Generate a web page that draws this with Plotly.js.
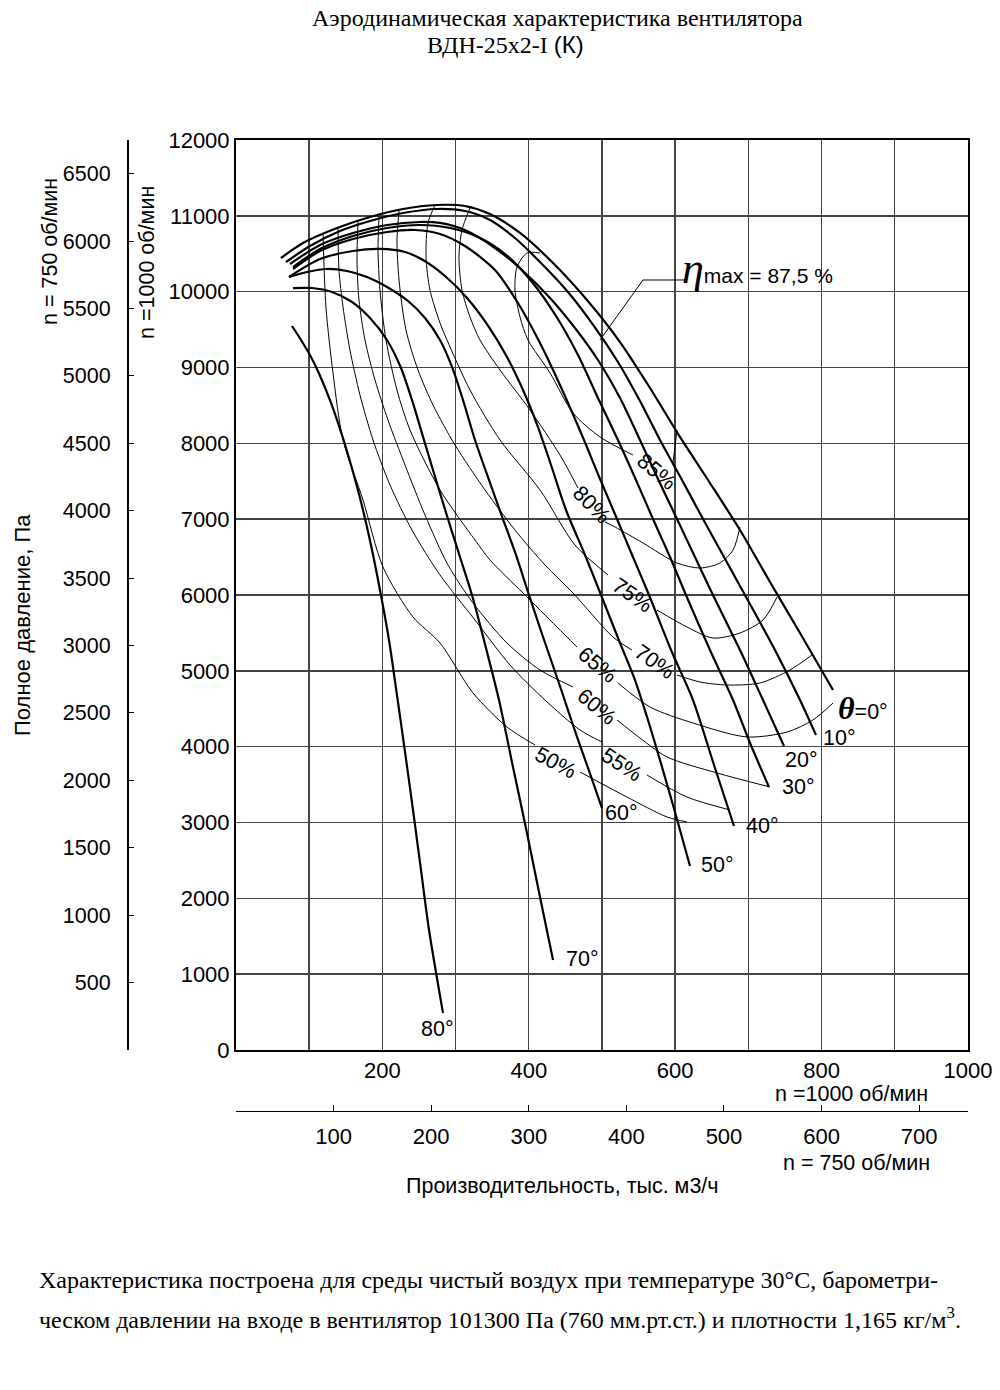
<!DOCTYPE html>
<html><head><meta charset="utf-8">
<script src="https://cdn.plot.ly/plotly-3.0.1.min.js"></script>
<style>body{margin:0;background:#fff}#chart{width:1000px;height:1390px}</style>
</head><body><div id="chart"></div>
<script>
// Flow Q, thousand m3/h (n = 1000 rpm); total pressure P, Pa
const theta0Q = [61.5, 91.5, 138.0, 183.1, 228.1, 274.6, 312.8, 347.0, 388.0, 433.1, 479.5, 524.6, 565.6, 606.5, 647.5, 688.5, 729.5, 770.5, 815.6];
const theta0P = [10444, 10642, 10840, 10985, 11090, 11143, 11130, 11024, 10774, 10378, 9890, 9336, 8730, 8084, 7477, 6857, 6172, 5499, 4747];
const theta10Q = [68.3, 101.1, 142.1, 183.1, 228.1, 274.6, 312.8, 347.0, 381.1, 415.3, 453.5, 489.1, 521.8, 551.9, 579.2, 609.3, 638.0, 666.7, 695.3, 736.3, 770.5, 792.3];
const theta10P = [10391, 10602, 10800, 10932, 11037, 11090, 11064, 10945, 10708, 10391, 9996, 9547, 9073, 8558, 8044, 7517, 7002, 6501, 6000, 5275, 4615, 4154];
const theta20Q = [73.8, 114.8, 159.8, 206.3, 251.4, 278.7, 312.8, 353.8, 390.7, 429.0, 463.1, 494.5, 524.6, 551.9, 576.5, 602.5, 627.0, 651.6, 688.5, 719.9, 748.6];
const theta20P = [10365, 10616, 10774, 10879, 10919, 10906, 10813, 10576, 10286, 9917, 9521, 9099, 8598, 8044, 7530, 7002, 6501, 6000, 5275, 4615, 4009];
const theta30Q = [77.9, 114.8, 159.8, 206.3, 251.4, 292.3, 330.6, 367.5, 404.4, 437.2, 467.2, 494.5, 521.8, 546.4, 569.7, 592.9, 614.7, 647.5, 679.0, 702.2, 728.1];
const theta30P = [10325, 10563, 10734, 10840, 10879, 10840, 10721, 10497, 10128, 9679, 9165, 8598, 8044, 7517, 7002, 6501, 6000, 5275, 4615, 4048, 3468];
const theta40Q = [77.9, 114.8, 159.8, 206.3, 244.5, 278.7, 312.8, 353.8, 385.2, 415.3, 442.6, 475.4, 497.3, 520.5, 542.3, 564.2, 594.3, 624.3, 653.0, 680.3];
const theta40P = [10299, 10536, 10695, 10787, 10813, 10761, 10602, 10286, 9851, 9323, 8769, 8044, 7530, 7002, 6501, 6000, 5275, 4615, 3758, 2954];
const theta50Q = [72.4, 114.8, 159.8, 196.7, 230.9, 255.5, 285.5, 315.6, 345.6, 370.2, 392.1, 412.6, 431.7, 450.8, 476.8, 501.4, 524.6, 545.1, 562.8, 579.2, 599.7, 620.2];
const theta50P = [10194, 10431, 10536, 10563, 10523, 10418, 10207, 9917, 9534, 9139, 8703, 8215, 7675, 7121, 6528, 5934, 5367, 4879, 4352, 3824, 3138, 2426];
const theta60Q = [72.4, 97.0, 124.3, 151.6, 179.0, 206.3, 235.0, 258.2, 278.7, 295.1, 310.1, 326.5, 345.6, 364.7, 382.5, 398.9, 415.3, 430.3, 445.3, 461.7, 480.9, 500.0];
const theta60P = [10194, 10259, 10299, 10273, 10194, 10062, 9877, 9653, 9363, 9007, 8572, 8044, 7517, 7002, 6528, 6040, 5565, 5143, 4721, 4246, 3719, 3191];
const theta70Q = [77.9, 103.8, 131.1, 158.5, 183.1, 206.3, 225.4, 240.4, 256.8, 273.2, 289.6, 306.0, 322.4, 341.5, 359.3, 378.4, 397.5, 415.3, 433.1];
const theta70P = [10048, 10048, 9996, 9864, 9653, 9363, 8993, 8572, 8044, 7517, 7002, 6501, 6000, 5301, 4615, 3732, 2862, 2018, 1187];
const theta80Q = [76.5, 88.8, 102.5, 116.1, 129.8, 143.4, 157.1, 170.8, 184.4, 196.7, 209.0, 219.9, 230.9, 241.8, 252.7, 263.7, 282.8];
const theta80P = [9547, 9363, 9139, 8862, 8532, 8150, 7714, 7226, 6659, 6066, 5407, 4681, 3930, 3165, 2374, 1582, 488];

// efficiency iso-lines (a = part before label, b = part after label)
const eff85Qa = [415.3, 397.5, 383.9, 381.1, 388.0, 398.9, 429.0, 460.4, 497.3, 542.3];
const eff85Pa = [10510, 10510, 10325, 10022, 9666, 9363, 8928, 8400, 8084, 7846];
const eff85Qb = [597.0, 602.5];
const eff85Pb = [7741, 8176];
const eff80Qa = [319.7, 308.7, 304.6, 308.7, 319.7, 333.3, 360.7, 401.6, 442.6, 467.2];
const eff80Pa = [11103, 10813, 10457, 10022, 9666, 9363, 8967, 8440, 7846, 7411];
const eff80Qb = [504.1, 517.8, 556.0, 602.5, 633.9, 661.2, 679.0, 688.5];
const eff80Pb = [6963, 6897, 6686, 6422, 6356, 6422, 6593, 6897];
const eff75Qa = [271.9, 262.3, 259.6, 265.0, 278.7, 288.2, 319.7, 360.7, 415.3, 463.1, 508.2];
const eff75Pa = [11143, 10906, 10457, 10022, 9587, 9363, 8703, 8044, 7385, 6659, 6264];
const eff75Qb = [575.1, 616.1, 651.6, 688.5, 719.9, 739.1];
const eff75Pb = [5802, 5578, 5433, 5499, 5670, 5974];
const eff70Qa = [222.7, 219.9, 222.7, 232.2, 248.6, 269.1, 299.2, 340.2, 381.1, 422.1, 460.4, 515.0, 541.0];
const eff70Pa = [11064, 10681, 10154, 9495, 8967, 8506, 7978, 7385, 6857, 6396, 6026, 5446, 5275];
const eff70Qb = [602.5, 633.9, 670.8, 715.8, 756.8, 786.9];
const eff70Pb = [4945, 4853, 4813, 4840, 5011, 5209];
const eff65Qa = [195.4, 194.0, 196.7, 204.9, 219.9, 237.7, 278.7, 326.5, 347.0, 392.1, 438.5, 465.8];
const eff65Pa = [10998, 10550, 10022, 9363, 8703, 8176, 7385, 6725, 6462, 6026, 5578, 5314];
const eff65Qb = [521.8, 565.6, 624.3, 698.1, 752.7, 788.2, 815.6];
const eff65Pb = [4840, 4523, 4312, 4128, 4193, 4352, 4576];
const eff60Qa = [166.7, 165.3, 168.0, 176.2, 189.9, 207.6, 230.9, 258.2, 289.6, 323.8, 370.2, 415.3, 460.4];
const eff60Pa = [10919, 10418, 9890, 9363, 8835, 8308, 7714, 7055, 6396, 5895, 5367, 5011, 4787];
const eff60Qb = [520.5, 551.9, 588.8, 657.1, 729.5];
const eff60Pb = [4352, 4114, 3864, 3653, 3468];
const eff55Qa = [139.3, 140.7, 146.2, 155.7, 169.4, 187.2, 210.4, 240.4, 278.7, 326.5, 374.3, 422.1, 469.9, 500.0];
const eff55Pa = [10840, 10286, 9798, 9231, 8637, 8044, 7451, 6857, 6264, 5670, 5077, 4615, 4220, 4062];
const eff55Qb = [561.5, 616.1, 674.9];
const eff55Pb = [3626, 3336, 3165];
const eff50Qa = [118.9, 122.9, 132.5, 146.2, 173.5, 200.8, 241.8, 278.7, 323.8, 370.2, 408.5];
const eff50Pa = [10761, 9798, 8928, 8044, 7253, 6369, 5710, 5367, 4708, 4259, 4022];
const eff50Qb = [469.9, 534.1, 588.8, 616.1];
const eff50Pb = [3666, 3336, 3073, 3007];

const etaLeaderQ = [497.3, 556.0, 616.1];
const etaLeaderP = [9363, 10154, 10154];

const xTicks1000 = [0, 100, 200, 300, 400, 500, 600, 700, 800, 900, 1000];
const xTickText1000 = ['', '', '200', '', '400', '', '600', '', '800', '', '1000'];
const xTicks750 = [100, 200, 300, 400, 500, 600, 700];
const yTicks1000 = [0, 1000, 2000, 3000, 4000, 5000, 6000, 7000, 8000, 9000, 10000, 11000, 12000];
const yTickText1000 = ['0', '1000', '2000', '3000', '4000', '5000', '6000', '7000', '8000', '9000', '10000', '11000', '12000'];
const yTicks750 = [500, 1000, 1500, 2000, 2500, 3000, 3500, 4000, 4500, 5000, 5500, 6000, 6500];

const SANS = 'Liberation Sans, Arial, sans-serif';
const SERIF = 'Liberation Serif, Times New Roman, serif';
const FS = 21.5;

const traces = [];
function thick(q, p) { traces.push({x: q, y: p, mode: 'lines', line: {color: '#000', width: 2.2, shape: 'spline', smoothing: 0.8}, hoverinfo: 'skip', showlegend: false}); }
function thin(q, p) { traces.push({x: q, y: p, mode: 'lines', line: {color: '#000', width: 1, shape: 'spline', smoothing: 0.8}, hoverinfo: 'skip', showlegend: false}); }

[[theta0Q, theta0P], [theta10Q, theta10P], [theta20Q, theta20P], [theta30Q, theta30P], [theta40Q, theta40P],
 [theta50Q, theta50P], [theta60Q, theta60P], [theta70Q, theta70P], [theta80Q, theta80P]].forEach(c => thick(c[0], c[1]));
[[eff85Qa, eff85Pa], [eff85Qb, eff85Pb], [eff80Qa, eff80Pa], [eff80Qb, eff80Pb], [eff75Qa, eff75Pa], [eff75Qb, eff75Pb],
 [eff70Qa, eff70Pa], [eff70Qb, eff70Pb], [eff65Qa, eff65Pa], [eff65Qb, eff65Pb], [eff60Qa, eff60Pa], [eff60Qb, eff60Pb],
 [eff55Qa, eff55Pa], [eff55Qb, eff55Pb], [eff50Qa, eff50Pa], [eff50Qb, eff50Pb]].forEach(c => thin(c[0], c[1]));
traces.push({x: etaLeaderQ, y: etaLeaderP, mode: 'lines', line: {color: '#000', width: 1}, hoverinfo: 'skip', showlegend: false});
// dummy trace to register the secondary (n = 750 rpm) scales
traces.push({x: [null], y: [null], xaxis: 'x2', yaxis: 'y2', mode: 'lines', hoverinfo: 'skip', showlegend: false});

const ann = [];
function dtext(x, y, t, opt) { ann.push(Object.assign({x: x, y: y, xref: 'x', yref: 'y', text: t, showarrow: false, xanchor: 'center', yanchor: 'middle', font: {family: SANS, size: FS, color: '#000'}}, opt || {})); }
function ptext(x, y, t, opt) { ann.push(Object.assign({x: x, y: y, xref: 'paper', yref: 'paper', text: t, showarrow: false, xanchor: 'center', yanchor: 'middle', font: {family: SANS, size: FS, color: '#000'}}, opt || {})); }

// efficiency labels
dtext(575, 7622, '85%', {textangle: 40});
dtext(486, 7187, '80%', {textangle: 45});
dtext(541, 6000, '75%', {textangle: 35});
dtext(572, 5117, '70%', {textangle: 35});
dtext(494, 5077, '65%', {textangle: 40});
dtext(493, 4523, '60%', {textangle: 40});
dtext(527, 3758, '55%', {textangle: 33});
dtext(437, 3785, '50%', {textangle: 28});
// blade angle labels
dtext(275, 277, '80°');
dtext(474, 1200, '70°');
dtext(526, 3125, '60°');
dtext(658, 2440, '50°');
dtext(719, 2954, '40°');
dtext(768, 3468, '30°');
dtext(772, 3824, '20°');
dtext(825, 4114, '10°');
dtext(819.7, 4510, '<span style="font-family:Liberation Serif;font-size:32px;font-style:italic;font-weight:bold">θ</span>=0°', {xanchor: 'left'});
dtext(606.5, 10312, '<span style="font-family:Liberation Serif;font-size:44px;font-style:italic">η</span>max = 87,5 %', {xanchor: 'left', font: {family: SANS, size: 21, color: '#000'}});

// page texts
ptext(0.5276, 1.1232, 'Аэродинамическая характеристика вентилятора', {font: {family: SERIF, size: 24, color: '#000'}});
ptext(0.4666, 1.0960, 'ВДН-25х2-I <span style="font-family:Liberation Sans">(К)</span>', {font: {family: SERIF, size: 24, color: '#000'}});
ptext(-0.0899, 0.5101, 'Полное давление, Па', {textangle: -90, font: {family: SANS, size: 22, color: '#000'}});
ptext(-0.0576, 0.8869, 'n = 750 об/мин', {textangle: -90});
ptext(0.0541, 0.8768, 'n =1000 об/мин', {textangle: -90});
ptext(0.9562, 0.03636, 'n =1000 об/мин', {xanchor: 'right'});
ptext(0.9585, -0.0333, 'n = 750 об/мин', {xanchor: 'right'});
ptext(0.5323, -0.0566, 'Производительность, тыс. м3/ч');
ptext(-0.0726, -0.1515, 'Характеристика построена для среды чистый воздух при температуре 30°С, барометри-', {xanchor: 'left', font: {family: SERIF, size: 24, color: '#000'}});
ptext(-0.0726, -0.1899, 'ческом давлении на входе в вентилятор 101300 Па (760 мм.рт.ст.) и плотности 1,165 кг/м<sup>3</sup>.', {xanchor: 'left', font: {family: SERIF, size: 24, color: '#000'}});

const layout = {
  width: 1000, height: 1390,
  margin: {l: 100, r: 32, t: 140, b: 260},
  paper_bgcolor: '#fff', plot_bgcolor: '#fff',
  showlegend: false,
  xaxis: {domain: [0.15668, 1], range: [0, 1000], tickvals: xTicks1000, ticktext: xTickText1000,
          showgrid: true, gridcolor: '#444', gridwidth: 1.4, zeroline: false,
          showline: true, linecolor: '#000', linewidth: 2, mirror: true, ticks: '',
          tickfont: {family: SANS, size: 22, color: '#000'}, anchor: 'y', fixedrange: true},
  yaxis: {domain: [0.080808, 1], range: [0, 12000], tickvals: yTicks1000, ticktext: yTickText1000,
          showgrid: true, gridcolor: '#444', gridwidth: 1.4, zeroline: false,
          showline: true, linecolor: '#000', linewidth: 2, mirror: true, ticks: '',
          tickfont: {family: SANS, size: 22, color: '#000'}, anchor: 'x', fixedrange: true},
  xaxis2: {overlaying: 'x', anchor: 'free', position: 0.019192, side: 'bottom', range: [0, 750],
           tickvals: xTicks750, ticks: 'inside', ticklen: 6, tickcolor: '#000', showgrid: false, zeroline: false,
           showline: true, linecolor: '#000', linewidth: 1.5, ticklabelstandoff: 5,
           tickfont: {family: SANS, size: 22, color: '#000'}, fixedrange: true},
  yaxis2: {overlaying: 'y', anchor: 'free', position: 0.032258, side: 'left', range: [0, 6750],
           tickvals: yTicks750, ticks: 'inside', ticklen: 5, tickcolor: '#000', showgrid: false, zeroline: false,
           showline: true, linecolor: '#000', linewidth: 2, ticklabelstandoff: 12,
           tickfont: {family: SANS, size: 21.5, color: '#000'}, fixedrange: true},
  annotations: ann
};
Plotly.newPlot('chart', traces, layout, {staticPlot: true, displayModeBar: false});
</script>
</body></html>
